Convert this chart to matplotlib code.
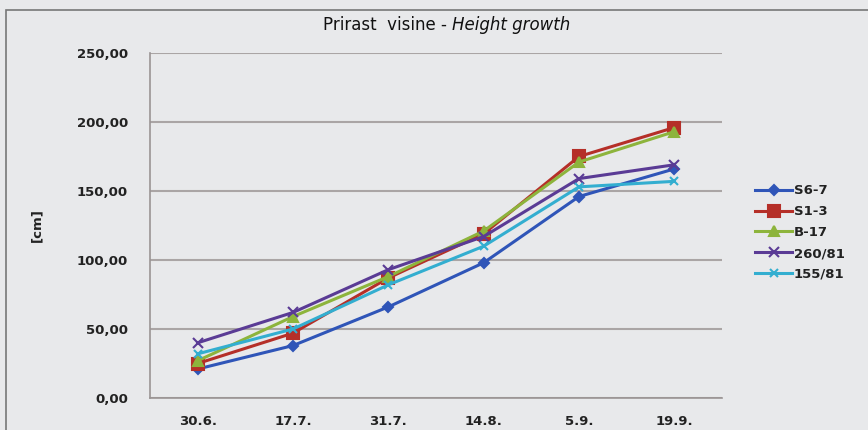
import matplotlib.pyplot as plt
from matplotlib.patches import Rectangle

DATES = ['30.6.', '17.7.', '31.7.', '14.8.', '5.9.', '19.9.']
S6_7 = [21, 38, 66, 98, 146, 166]
S1_3 = [25, 47, 87, 119, 175, 196]
B_17 = [27, 59, 88, 121, 171, 193]
L260_81 = [40, 62, 93, 117, 159, 169]
L155_81 = [32, 50, 82, 110, 153, 157]

SERIES = [
    ('S6-7', S6_7, '#2f55b8', 'D', 5),
    ('S1-3', S1_3, '#b52f28', 's', 8),
    ('B-17', B_17, '#8db43c', '^', 7),
    ('260/81', L260_81, '#5a3b95', 'x', 7),
    ('155/81', L155_81, '#33aed0', 'x', 6),
]

BG = '#e8e9eb'

fig = plt.figure(figsize=(8.68, 4.30), dpi=100, facecolor=BG)
fig.patches.append(Rectangle((6 / 868, -0.01), 1.0, 1 - 10 / 430 + 0.01,
                             transform=fig.transFigure, fill=False,
                             edgecolor='#777777', linewidth=1.2))

ax = fig.add_axes([150 / 868, 32 / 430, 572 / 868, 345 / 430], facecolor=BG)
x = range(len(DATES))
for name, vals, color, marker, ms in SERIES:
    ax.plot(x, vals, color=color, marker=marker, markersize=ms,
            linewidth=2.2, markeredgewidth=1.5, label=name)

ax.set_xlim(-0.5, len(DATES) - 0.5)
ax.set_ylim(0, 250)
ax.set_yticks(range(0, 251, 50))
ax.set_yticklabels(['%d,00' % v for v in range(0, 251, 50)])
ax.set_xticks(list(x))
ax.set_xticklabels(DATES)
ax.grid(axis='y', color='#aaa5a5', linewidth=1.5)
ax.set_axisbelow(True)
for s in ['top', 'right']:
    ax.spines[s].set_visible(False)
for s in ['left', 'bottom']:
    ax.spines[s].set_color('#9a9494')
    ax.spines[s].set_linewidth(1.2)
ax.tick_params(length=0, labelsize=9.5, colors='#222222')
ax.tick_params(axis='y', pad=16)
ax.tick_params(axis='x', pad=12)
for lab in ax.get_xticklabels() + ax.get_yticklabels():
    lab.set_fontweight('bold')
ax.set_ylabel('[cm]', fontsize=9.5, fontweight='bold', color='#222222', labelpad=24)

fig.text(452 / 868, 1 - 25 / 430, 'Prirast  visine - ', ha='right', va='center',
         fontsize=12, color='#111111')
fig.text(452 / 868, 1 - 25 / 430, 'Height growth', ha='left', va='center',
         fontsize=12, style='italic', color='#111111')

leg = fig.legend(loc='upper left', bbox_to_anchor=(750 / 868, 1 - 179 / 430),
                 frameon=False, fontsize=9.5, handlelength=2.8,
                 handletextpad=0.1, labelspacing=0.6, borderaxespad=0)
for t in leg.get_texts():
    t.set_fontweight('bold')
    t.set_color('#222222')

fig.savefig('out.png', dpi=100, facecolor=BG)
